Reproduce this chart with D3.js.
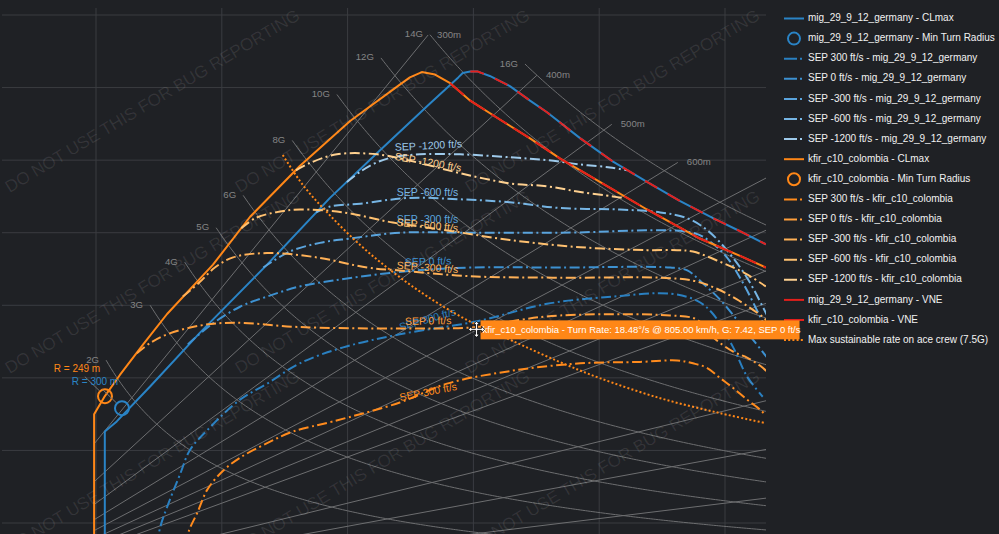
<!DOCTYPE html>
<html><head><meta charset="utf-8">
<script src="https://cdn.jsdelivr.net/npm/d3@7/dist/d3.min.js"></script>
<style>html,body{margin:0;padding:0;background:#1f2125;overflow:hidden}</style>
</head><body><svg id="c" width="999" height="534"></svg>
<script>
// ---------- DATA (speed km/h, turn rate deg/s) ----------
const migClmaxV = [214,214,233,286,365,472,572,652,731,776,783,795,807,826,858,890,917,970,1022,1076,1128,1181,1224,1265];
const migClmaxW = [3.5,11.3,12.0,14.4,18.1,22.8,27.4,30.7,33.9,35.7,36.0,36.1,36.1,35.8,35.1,34.1,33.3,31.5,29.9,28.5,27.2,26.0,25.1,24.2];
const kfirClmaxV = [197,197,213,238,275,313,386,445,524,604,683,699,718,739,763,795,842,890,938,1001,1076,1160,1224,1265];
const kfirClmaxW = [3.5,12.5,13.67,15.2,17.3,19.4,22.8,26.1,29.6,32.7,35.2,35.7,36.07,35.9,35.3,34.1,32.8,31.5,30.1,28.5,26.6,24.6,23.4,22.6];
const migVneFromV = 795;
const kfirVneFromV = 740;

const sepLevels = [300, 0, -300, -600, -1200];
const migSepV = [
  [297,302,313,334,349,377,429,472,524,593,683,806,917,1022,1113,1156,1181,1213,1235,1260],
  [346,381,429,472,524,577,683,795,938,1113,1140,1165,1192,1219,1245,1267],
  [466,508,556,604,683,795,938,1149,1176,1203,1229,1256,1267],
  [550,572,620,699,779,858,938,1033,1097,1140,1171,1203,1235,1260,1267],
  [599,620,644,672,715,779,858,917,970,1017,1044]
];
const migSepW = [
  [3.5,4.7,6.1,8.4,10.0,11.4,13.5,14.6,16.0,17.1,18.0,18.9,20.1,20.6,20.8,20.3,19.4,17.1,15.1,13.7],
  [17.3,18.6,19.9,20.6,21.3,21.7,22.3,22.6,22.6,22.6,22.4,21.5,20.4,19.0,17.6,16.4],
  [22.6,23.7,24.3,24.6,25.0,25.0,25.0,25.0,24.4,23.3,21.5,19.2,18.2],
  [26.4,26.8,27.0,27.4,27.3,27.1,26.7,26.6,26.4,26.0,25.2,23.8,21.9,19.9,19.3],
  [28.5,29.2,29.8,30.2,30.4,30.4,30.2,30.0,29.7,29.5,29.3]
];
const kfirSepV = [
  [342,348,361,377,402,429,472,513,577,683,758,863,970,1065,1124,1149,1171,1192,1213,1235,1256,1265],
  [265,286,313,365,418,524,683,806,874,938,1113,1156,1181,1213,1235,1260,1267],
  [338,365,389,418,472,551,631,683,795,938,1097,1149,1184,1219,1260,1267],
  [431,453,485,524,593,672,752,858,970,1076,1124,1149,1192,1232,1265],
  [518,540,583,647,715,779,858,917,970,1022,1036]
];
const kfirSepW = [
  [3.5,4.5,5.7,7.3,8.6,9.5,10.5,11.3,12.0,13.3,14.6,15.5,16.0,16.1,16.2,16.0,15.7,15.0,14.3,13.5,12.8,12.4],
  [16.7,17.4,18.0,18.6,18.8,18.5,18.4,18.5,19.0,19.3,19.3,19.0,17.8,16.8,16.4,15.7,15.4],
  [20.6,21.6,22.6,23.3,23.6,23.3,22.6,22.4,22.0,21.9,21.9,21.7,21.2,20.4,19.2,18.9],
  [25.3,26.0,26.4,26.6,26.4,25.7,25.2,24.5,24.0,23.8,23.8,23.7,23.0,22.2,21.3],
  [29.3,29.8,30.4,30.4,29.8,29.1,28.4,28.2,27.8,27.5,27.4]
];
// Max sustainable rate (7.5G)
const sustV = [497,529,567,620,672,726,790,863,938,1001,1097,1192,1265];
const sustW = [30.35,28.28,26.42,24.15,22.29,20.63,18.98,17.53,16.08,14.98,13.60,12.57,11.88];

// Min turn radius points
const migMinR = {v:241.3, w:12.91, r:300};
const kfirMinR = {v:214.3, w:13.74, r:249};

// Reference grid: iso-load lines and iso-radius lines
const gLoads = [2,3,4,5,6,8,10,12,14,16];
const gStartKmh = [216,286,341,391,434,512,583,653,731,882];
const radiiM = [300,400,500,600,700,800,900,1000,1500,2000,3000];
const radiusEndKmh = [728,901,1020,1125,1300,1300,1300,1300,1300,1300,1300];
const radiusStartKmh = 197;

// SEP label anchors [speed, turn rate, angle]
const sepLabelsMig = [[683,18.43,-16],[691,22.91,-2],[678,25.85,0],[678,27.73,0],[675,30.83,-3]];
const sepLabelsKfir = [[683,13.60,-11],[691,18.84,-1],[678,22.70,4],[678,25.67,5.5],[675,30.21,10]];

const xTicks = [200,400,600,800,1000,1200];
const yTicks = [5,10,15,20,25,30,35,40];

// ---------- STYLE ----------
const BG = '#1f2125';
const migColor = '#2a84c6', kfirColor = '#ff8717', vneColor = '#e3201c';
const migSepColors = ['#2a80c1','#3d91d1','#5aa4dd','#76b5e4','#9ecaeb'];
const kfirSepColors = ['#ff8b1d','#ff9f3c','#ffb157','#ffc170','#ffd190'];
const DASHDOT = '10,3.5,2,3.5';
const FONT = 'Liberation Sans, Arial, sans-serif';

const svg = d3.select('#c');
svg.append('rect').attr('width',999).attr('height',534).attr('fill',BG);
const x = d3.scaleLinear().domain([200,1200]).range([96,725]);
const y = d3.scaleLinear().domain([40,5]).range([15,523]);
const P = {l:2, r:766, t:8, b:534};

svg.append('defs').append('clipPath').attr('id','clip')
  .append('rect').attr('x',P.l).attr('y',P.t).attr('width',P.r-P.l).attr('height',P.b-P.t);

const root = svg.append('g').attr('clip-path','url(#clip)');

// grid
root.append('g').selectAll('line').data(xTicks).join('line')
  .attr('x1',d=>x(d)).attr('x2',d=>x(d)).attr('y1',P.t).attr('y2',P.b)
  .attr('stroke','#3a3c41').attr('stroke-width',1);
root.append('g').selectAll('line').data(yTicks).join('line')
  .attr('y1',d=>y(d)).attr('y2',d=>y(d)).attr('x1',P.l).attr('x2',P.r)
  .attr('stroke','#3a3c41').attr('stroke-width',1);

// watermark
const wm = svg.append('g').attr('clip-path','url(#clip)');
const wmCx = [153,383,613], wmCy = [102,283,463];
wmCy.forEach(cy=>wmCx.forEach(cx=>{
  wm.append('text').attr('transform',`translate(${cx},${cy}) rotate(-30.9)`)
    .attr('text-anchor','middle').attr('dominant-baseline','middle')
    .attr('font-family',FONT).attr('font-size',17.2)
    .attr('fill','#ffffff').attr('fill-opacity',0.09)
    .text('DO NOT USE THIS FOR BUG REPORTING');
}));

const toRad = Math.PI/180;
const gAcc = 9.80665;
const refColor = '#6d6e70';
const lineRef = d3.line().x(d=>x(d[0])).y(d=>y(d[1]));
// iso-G lines
gLoads.forEach((n,i)=>{
  const pts = d3.range(gStartKmh[i], 1301, 4).map(v=>[v, gAcc*Math.sqrt(n*n-1)/(v/3.6)/toRad]);
  root.append('path').attr('d',lineRef(pts)).attr('fill','none').attr('stroke',refColor).attr('stroke-width',1);
  root.append('text').attr('x',x(pts[0][0])-7).attr('y',y(pts[0][1]))
    .attr('text-anchor','end').attr('dominant-baseline','middle')
    .attr('font-family',FONT).attr('font-size',9.6).attr('fill','#858585')
    .text(n+'G');
});
// iso-radius lines
radiiM.forEach((R,i)=>{
  const pts = [radiusStartKmh, radiusEndKmh[i]].map(v=>[v, (v/3.6)/R/toRad]);
  root.append('path').attr('d',lineRef(pts)).attr('fill','none').attr('stroke',refColor).attr('stroke-width',1);
  if (radiusEndKmh[i] < 1265) {
    root.append('text').attr('x',x(pts[1][0])+9).attr('y',y(pts[1][1]))
      .attr('dominant-baseline','middle')
      .attr('font-family',FONT).attr('font-size',9.6).attr('fill','#858585')
      .text(R+'m');
  }
});

const curve = d3.line().x(d=>x(d[0])).y(d=>y(d[1])).curve(d3.curveCatmullRom.alpha(0.5));
const straight = d3.line().x(d=>x(d[0])).y(d=>y(d[1]));
const zip = (a,b)=>a.map((v,i)=>[v,b[i]]);

function drawAircraft(clV, clW, col, minR, sepV, sepW, sepCols, labels){
  root.append('path').attr('d',straight(zip(clV,clW))).attr('fill','none').attr('stroke',col)
    .attr('stroke-width',2).attr('stroke-linejoin','round');
  root.append('circle').attr('cx',x(minR.v)).attr('cy',y(minR.w)).attr('r',7)
    .attr('fill','none').attr('stroke',col).attr('stroke-width',2);
  sepV.forEach((vs,i)=>{
    root.append('path').attr('d',curve(zip(vs,sepW[i]))).attr('fill','none')
      .attr('stroke',sepCols[i]).attr('stroke-width',2).attr('stroke-dasharray',DASHDOT);
  });
  labels.forEach((l,i)=>{
    root.append('text').attr('transform',`translate(${x(l[0])},${y(l[1])}) rotate(${l[2]})`)
      .attr('dominant-baseline','middle')
      .attr('font-family',FONT).attr('font-size',10.5)
      .attr('fill',sepCols[i]).text(`SEP ${sepLevels[i]} ft/s`);
  });
}
drawAircraft(migClmaxV, migClmaxW, migColor, migMinR, migSepV, migSepW, migSepColors, sepLabelsMig);
drawAircraft(kfirClmaxV, kfirClmaxW, kfirColor, kfirMinR, kfirSepV, kfirSepW, kfirSepColors, sepLabelsKfir);

// VNE overlays
const migVne = zip(migClmaxV,migClmaxW).filter(d=>d[0]>=migVneFromV);
const kfirVne = zip(kfirClmaxV,kfirClmaxW).filter(d=>d[0]>=kfirVneFromV);
root.append('path').attr('d',straight(migVne)).attr('fill','none').attr('stroke',vneColor).attr('stroke-width',2).attr('stroke-dasharray','14,12');
root.append('path').attr('d',straight(kfirVne)).attr('fill','none').attr('stroke',vneColor).attr('stroke-width',2).attr('stroke-dasharray','18,8');

// sustained 7.5G
root.append('path').attr('d',curve(zip(sustV,sustW))).attr('fill','none').attr('stroke',kfirColor)
  .attr('stroke-width',2).attr('stroke-dasharray','2,2.2');

// min radius annotations
function rAnnot(p, col, dx, dy){
  const cx = x(p.v), cy = y(p.w);
  const ang = Math.atan2(dy, dx);
  svg.append('line').attr('x1',cx+dx*0.72).attr('y1',cy+dy*0.72).attr('x2',cx+Math.cos(ang)*8).attr('y2',cy+Math.sin(ang)*8)
    .attr('stroke','#777').attr('stroke-width',1);
  svg.append('text').attr('x',cx+dx).attr('y',cy+dy).attr('text-anchor','middle').attr('dominant-baseline','middle')
    .attr('font-family',FONT).attr('font-size',10).attr('fill',col)
    .text(`R = ${p.r} m`);
}
rAnnot(kfirMinR, kfirColor, -28, -27);
rAnnot(migMinR, migColor, -27, -26);

// ---------- LEGEND ----------
const legend = [
  ['mig_29_9_12_germany - CLmax','line',migColor],
  ['mig_29_9_12_germany - Min Turn Radius','circle',migColor],
  ...sepLevels.map((s,i)=>[`SEP ${s} ft/s - mig_29_9_12_germany`,'dashdot',migSepColors[i]]),
  ['kfir_c10_colombia - CLmax','line',kfirColor],
  ['kfir_c10_colombia - Min Turn Radius','circle',kfirColor],
  ...sepLevels.map((s,i)=>[`SEP ${s} ft/s - kfir_c10_colombia`,'dashdot',kfirSepColors[i]]),
  ['mig_29_9_12_germany - VNE','line',vneColor],
  ['kfir_c10_colombia - VNE','line',vneColor],
  ['Max sustainable rate on ace crew (7.5G)','dot',kfirColor]
];
const lg = svg.append('g');
legend.forEach((d,i)=>{
  const yy = 18.5 + i*20.1;
  if (d[1]==='circle') lg.append('circle').attr('cx',794).attr('cy',yy).attr('r',6).attr('fill','none').attr('stroke',d[2]).attr('stroke-width',2);
  else lg.append('line').attr('x1',784).attr('x2',804).attr('y1',yy).attr('y2',yy).attr('stroke',d[2]).attr('stroke-width',2)
      .attr('stroke-dasharray', d[1]==='dashdot' ? '13,3,2,20' : d[1]==='dot' ? '2,2.2' : null);
  lg.append('text').attr('x',808).attr('y',yy).attr('dominant-baseline','middle')
    .attr('font-family',FONT).attr('font-size',10).attr('fill','#f2f2f2')
    .text(d[0]);
});

// ---------- HOVER ----------
const hover = {name:'kfir_c10_colombia', v:805, w:18.48, g:7.42, sep:0};
const hx = x(hover.v), hy = y(hover.w);
const hg = svg.append('g');
hg.append('rect').attr('x',hx+4).attr('y',hy-7).attr('width',319).attr('height',19).attr('fill',kfirColor);
hg.append('text').attr('x',hx+6).attr('y',hy+3).attr('dominant-baseline','middle')
  .attr('font-family',FONT).attr('font-size',9.5).attr('fill','#ffffff')
  .text(`${hover.name} - Turn Rate: ${hover.w.toFixed(2)}°/s @ ${hover.v.toFixed(2)} km/h, G: ${hover.g.toFixed(2)}, SEP ${hover.sep} ft/s`);
// move cursor
const cur = hg.append('g').attr('transform',`translate(${hx},${hy+2})`);
cur.append('path').attr('d','M0,-8 L3,-5 L1,-5 L1,-1 L5,-1 L5,-3 L8,0 L5,3 L5,1 L1,1 L1,5 L3,5 L0,8 L-3,5 L-1,5 L-1,1 L-5,1 L-5,3 L-8,0 L-5,-3 L-5,-1 L-1,-1 L-1,-5 L-3,-5 Z')
  .attr('fill','#ffffff').attr('stroke','#000').attr('stroke-width',0.8);
</script></body></html>
